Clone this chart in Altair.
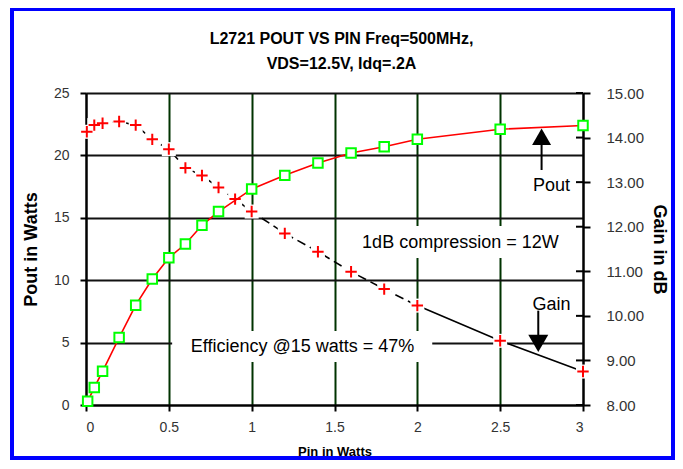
import altair as alt
import pandas as pd

FONT = "Liberation Sans"

# ---- data ----
pout_pin = [0.01, 0.05, 0.1, 0.2, 0.3, 0.4, 0.5, 0.6, 0.7, 0.8, 1.0, 1.2, 1.4, 1.6, 1.8, 2.0, 2.5, 3.0]
pout_w = [0.3, 1.4, 2.7, 5.4, 8.0, 10.1, 11.8, 12.9, 14.4, 15.5, 17.3, 18.4, 19.4, 20.2, 20.7, 21.3, 22.1, 22.4]

gain_pin = [0.005, 0.05, 0.1, 0.2, 0.3, 0.4, 0.5, 0.6, 0.7, 0.8, 0.9, 1.0, 1.2, 1.4, 1.6, 1.8, 2.0, 2.5, 3.0]
gain_db = [14.13, 14.28, 14.32, 14.36, 14.28, 13.96, 13.74, 13.32, 13.15, 12.88, 12.62, 12.34,
           11.85, 11.44, 10.99, 10.60, 10.23, 9.44, 8.75]

x_ticks = [0, 0.5, 1, 1.5, 2, 2.5, 3]
pout_ticks = [0, 5, 10, 15, 20, 25]
gain_ticks = [8, 9, 10, 11, 12, 13, 14, 15]

title_lines = ["L2721 POUT VS PIN Freq=500MHz,", "VDS=12.5V, Idq=.2A"]

# annotations (in Pin / Pout units)
note_text = ["Pout", "Gain", "1dB compression = 12W", "Efficiency @15 watts = 47%"]
note_pin = [2.81, 2.81, 2.26, 1.307]
note_pout = [17.55, 8.0, 13.0, 4.67]
box_pin = [1.61, 0.52]
box_pin2 = [2.91, 2.09]
box_pout = [11.78, 3.45]
box_pout2 = [14.34, 5.93]
arrow_pin = [2.75, 2.73]
arrow_from = [18.83, 7.56]
arrow_to = [20.9, 5.61]
head_pout = [21.5, 4.94]
head_shape = ["triangle-up", "triangle-down"]
head_size = [361, 400]

# ---- frames ----
pout_df = pd.DataFrame({"pin": pout_pin, "pout": pout_w})
gain_df = pd.DataFrame({"pin": gain_pin, "gain": gain_db})
dash_df = gain_df[gain_df["pin"] <= 2.0]
solid_df = gain_df[gain_df["pin"] >= 2.0]
notes_df = pd.DataFrame({"pin": note_pin, "pout": note_pout, "label": note_text})
box_df = pd.DataFrame({"pin": box_pin, "pin2": box_pin2, "pout": box_pout, "pout2": box_pout2})
arrow_df = pd.DataFrame({"pin": arrow_pin, "pout": arrow_from, "pout2": arrow_to,
                         "head": head_pout, "shape": head_shape, "size": head_size})
gtick_df = pd.DataFrame({"gain": gain_ticks})

W, H = 497, 312

xaxis = alt.Axis(values=x_ticks, title="Pin in Watts", format="~g", grid=True,
                 gridColor=alt.condition("datum.value > 0 && datum.value < 3",
                                         alt.value("#003300"), alt.value("black")),
                 gridWidth=2, domainColor="black", domainWidth=2,
                 tickColor="black", tickWidth=2, tickSize=6,
                 labelFont=FONT, labelFontSize=14, labelColor="#333333", labelPadding=9,
                 titleFont=FONT, titleFontSize=13, titleFontWeight="bold", titleColor="black",
                 titlePadding=11)
X = alt.X("pin:Q", scale=alt.Scale(domain=[0, 3], nice=False, zero=False), axis=xaxis)

left_axis = alt.Axis(values=pout_ticks, title="Pout in Watts", orient="left", grid=True,
                     gridColor="#111111", gridWidth=2, domainColor="black", domainWidth=2,
                     tickColor="black", tickWidth=2, tickSize=6,
                     labelFont=FONT, labelFontSize=14, labelColor="#333333", labelPadding=11,
                     titleFont=FONT, titleFontSize=18, titleFontWeight="bold", titleColor="black",
                     titlePadding=13)
right_axis = alt.Axis(values=gain_ticks, title="Gain in dB", orient="right", format=".2f",
                      grid=False, domainColor="black", domainWidth=2,
                      tickColor="black", tickWidth=2, tickSize=7,
                      labelFont=FONT, labelFontSize=15, labelColor="#333333", labelPadding=16,
                      titleFont=FONT, titleFontSize=18, titleFontWeight="bold", titleColor="black",
                      titlePadding=6)

pscale = alt.Scale(domain=[0, 25], nice=False, zero=False)
gscale = alt.Scale(domain=[8, 15], nice=False, zero=False)

PLUS = "M-1,0H1M0,-1V1"

# background layer (with left axis): white label boxes + blue frame
bg = alt.layer(
    alt.Chart(box_df).mark_rect(color="white").encode(
        x=X, x2="pin2:Q", y=alt.Y("pout:Q", scale=pscale, axis=left_axis), y2="pout2:Q"),
    alt.Chart(box_df).mark_rect(filled=False, stroke="#0000ff", strokeWidth=4).encode(
        x=alt.value(-74), x2=alt.value(587), y=alt.value(-84), y2=alt.value(365)),
)

YG = alt.Y("gain:Q", scale=gscale, axis=right_axis)
gain_layer = alt.layer(
    alt.Chart(dash_df).mark_line(color="black", strokeWidth=1.6, strokeDash=[9, 5]).encode(x=X, y=YG),
    alt.Chart(solid_df).mark_line(color="black", strokeWidth=1.6).encode(x=X, y=YG),
    alt.Chart(gain_df).mark_point(shape="square", size=196, filled=True, color="white", opacity=1).encode(x=X, y=YG),
    alt.Chart(gain_df).mark_point(shape=PLUS, size=130, filled=False, color="#ff0000",
                                   strokeWidth=2, opacity=1).encode(x=X, y=YG),
    alt.Chart(gtick_df).mark_rule(color="black", strokeWidth=2, xOffset=-7).encode(
        x=alt.datum(3), x2=alt.datum(3), y=YG),
)

YP = alt.Y("pout:Q", scale=pscale, axis=None)
fg = alt.layer(
    alt.Chart(pout_df).mark_line(color="#ff0000", strokeWidth=1.6).encode(x=X, y=YP),
    alt.Chart(pout_df).mark_point(shape="square", size=90, filled=True, fill="white",
                                  stroke="#00ff00", strokeWidth=2, opacity=1).encode(x=X, y=YP),
    alt.Chart(arrow_df).mark_rule(color="black", strokeWidth=2).encode(x=X, y=YP, y2="pout2:Q"),
    alt.Chart(arrow_df).mark_point(filled=True, color="black", opacity=1).encode(
        x=X, y=alt.Y("head:Q", scale=pscale, axis=None),
        shape=alt.Shape("shape:N", scale=None), size=alt.Size("size:Q", scale=None)),
    alt.Chart(notes_df).mark_text(font=FONT, fontSize=18, color="black", align="center",
                                  baseline="middle").encode(x=X, y=YP, text="label:N"),
)

chart = alt.layer(bg, gain_layer, fg).resolve_scale(y="independent").properties(
    width=W, height=H,
    padding={"left": 78, "top": 85, "right": 92, "bottom": 56},
    autosize=alt.AutoSizeParams(type="none"),
    background="white",
    title=alt.TitleParams(text=title_lines, font=FONT, fontSize=16, fontWeight="bold",
                          color="black", lineHeight=25, offset=-81, anchor="middle",
                          frame="group", baseline="bottom", dx=7),
).configure_view(stroke="transparent")

chart.save("out.html", embed_options={"renderer": "svg", "actions": False})
